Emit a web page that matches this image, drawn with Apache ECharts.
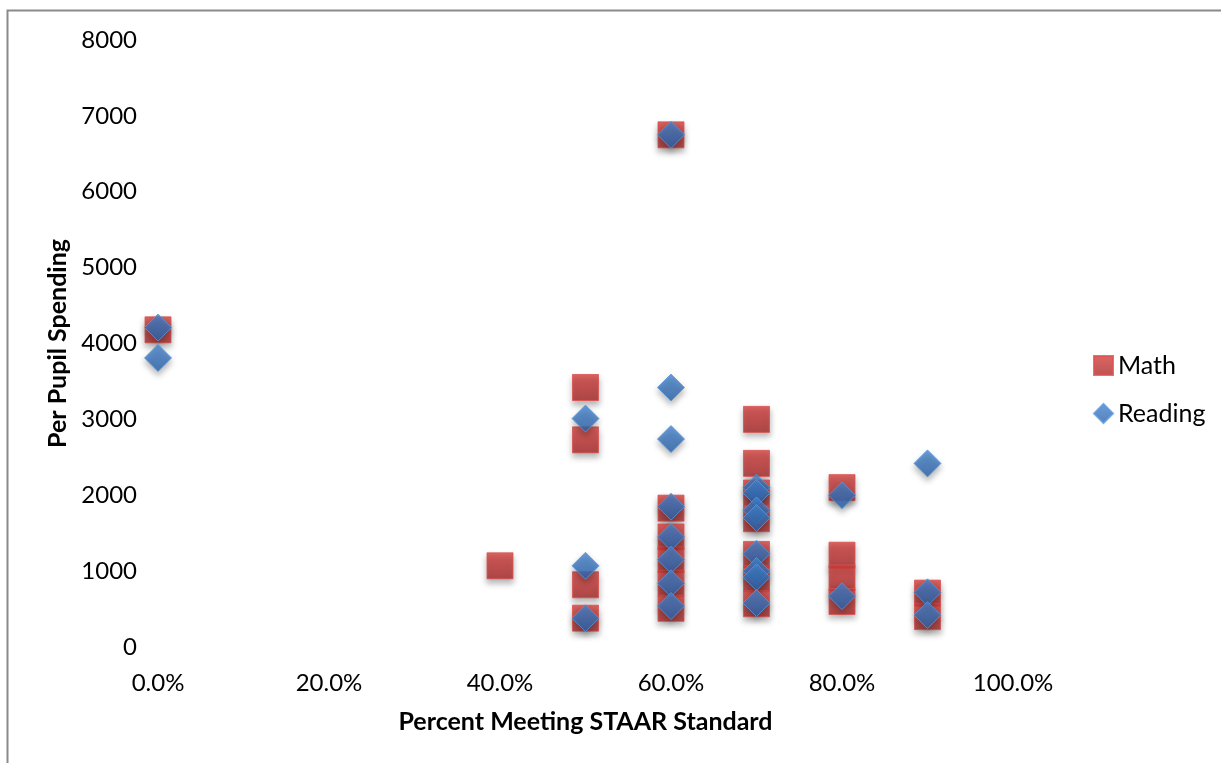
<!DOCTYPE html>
<html>
<head>
<meta charset="utf-8">
<script src="https://cdn.jsdelivr.net/npm/echarts@6/dist/echarts.min.js"></script>
<style>
html,body{margin:0;padding:0;background:#fff;}
#chart{width:1221px;height:763px;}
</style>
</head>
<body>
<div id="chart"></div>
<script>
// Data
const xTicks = [0, 0.2, 0.4, 0.6, 0.8, 1.0];
const yTicks = [0, 1000, 2000, 3000, 4000, 5000, 6000, 7000, 8000];

const mathX = [0, 0.4, 0.5, 0.5, 0.5, 0.5, 0.6, 0.6, 0.6, 0.6, 0.6, 0.6, 0.7, 0.7, 0.7, 0.7, 0.7, 0.7, 0.7, 0.8, 0.8, 0.8, 0.8, 0.9, 0.9];
const mathY = [4180, 1070, 3420, 2730, 820, 380, 6750, 1830, 1450, 1150, 840, 510, 3000, 2420, 2030, 1690, 1220, 900, 570, 2100, 1210, 910, 600, 710, 400];

const readingX = [0, 0, 0.5, 0.5, 0.5, 0.6, 0.6, 0.6, 0.6, 0.6, 0.6, 0.6, 0.6, 0.7, 0.7, 0.7, 0.7, 0.7, 0.7, 0.7, 0.7, 0.8, 0.8, 0.9, 0.9, 0.9];
const readingY = [4210, 3810, 3010, 1070, 380, 6750, 3420, 2740, 1850, 1450, 1150, 840, 540, 2100, 2030, 1800, 1700, 1230, 1000, 920, 580, 2000, 670, 2420, 720, 420];

const mathData = mathX.map((x, i) => [x, mathY[i]]);
const readingData = readingX.map((x, i) => [x, readingY[i]]);

const FONT = 'Lato';
const chart = echarts.init(document.getElementById('chart'));

const redGrad = new echarts.graphic.LinearGradient(0, 0, 0, 1, [
  {offset: 0, color: '#d63e3b'},
  {offset: 1, color: '#a9292a'}
]);
const blueGrad = new echarts.graphic.LinearGradient(0, 0, 0, 1, [
  {offset: 0, color: '#4585cf'},
  {offset: 1, color: '#2a62ab'}
]);

chart.setOption({
  animation: false,
  backgroundColor: '#ffffff',
  graphic: [{
    type: 'rect',
    shape: {x: 7.5, y: 10.5, width: 1240, height: 800},
    style: {fill: 'none', stroke: '#8a8a8a', lineWidth: 2},
    silent: true,
    z: -10
  }],
  grid: {left: 158, right: 208, top: 40, bottom: 116, containLabel: false},
  legend: {
    orient: 'vertical',
    left: 1088,
    top: 348,
    itemWidth: 19,
    itemHeight: 19,
    itemGap: 23,
    textStyle: {fontFamily: FONT, fontSize: 25, color: '#000'},
    data: [
      {name: 'Math', icon: 'rect'},
      {name: 'Reading', icon: 'diamond'}
    ]
  },
  xAxis: {
    type: 'value',
    min: 0,
    max: 1.0,
    interval: 0.2,
    name: 'Percent Meeting STAAR Standard',
    nameLocation: 'middle',
    nameGap: 62,
    nameTextStyle: {fontFamily: FONT, fontSize: 25, fontWeight: 'bold', color: '#000'},
    axisLine: {show: false},
    axisTick: {show: false},
    splitLine: {show: false},
    axisLabel: {
      fontFamily: FONT, fontSize: 24, color: '#000', margin: 24,
      formatter: v => (v * 100).toFixed(1) + '%'
    }
  },
  yAxis: {
    type: 'value',
    min: 0,
    max: 8000,
    interval: 1000,
    name: 'Per Pupil Spending',
    nameLocation: 'middle',
    nameGap: 88,
    nameTextStyle: {fontFamily: FONT, fontSize: 25, fontWeight: 'bold', color: '#000'},
    axisLine: {show: false},
    axisTick: {show: false},
    splitLine: {show: false},
    axisLabel: {
      fontFamily: FONT, fontSize: 24, color: '#000', margin: 21,
      formatter: v => String(v)
    }
  },
  series: [
    {
      name: 'Math',
      type: 'scatter',
      symbol: 'rect',
      symbolSize: 26,
      data: mathData,
      itemStyle: {
        color: redGrad,
        borderColor: '#d95350',
        borderWidth: 1,
        shadowColor: 'rgba(0,0,0,0.35)',
        shadowBlur: 6,
        shadowOffsetY: 4
      }
    },
    {
      name: 'Reading',
      type: 'scatter',
      symbol: 'diamond',
      symbolSize: 27,
      data: readingData,
      itemStyle: {
        color: blueGrad,
        borderColor: '#5a97dc',
        borderWidth: 1,
        shadowColor: 'rgba(0,0,0,0.35)',
        shadowBlur: 6,
        shadowOffsetY: 4
      }
    }
  ]
});
</script>
</body>
</html>
